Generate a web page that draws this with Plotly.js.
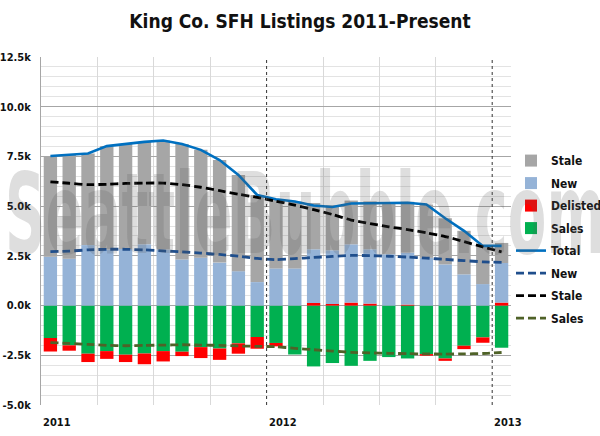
<!DOCTYPE html>
<html>
<head>
<meta charset="utf-8">
<script src="https://cdn.plot.ly/plotly-3.0.1.min.js"></script>
<style>
html,body{margin:0;padding:0;background:#fff;}
#wrap{position:relative;width:600px;height:436px;overflow:hidden;}
#chart{width:600px;height:436px;}
#wm{position:absolute;left:0;top:158px;white-space:nowrap;pointer-events:none;
    font-family:"DejaVu Sans Condensed","DejaVu Sans",sans-serif;font-weight:bold;font-size:112px;line-height:1;
    color:rgba(90,90,90,0.2);transform-origin:0 0;}
</style>
</head>
<body>
<div id="wrap">
<div id="chart"></div>
<div id="wm"></div>
</div>
<script>
// Months Jan 2011 .. Jan 2013
const months = ["2011-01","2011-02","2011-03","2011-04","2011-05","2011-06","2011-07","2011-08","2011-09","2011-10","2011-11","2011-12",
                "2012-01","2012-02","2012-03","2012-04","2012-05","2012-06","2012-07","2012-08","2012-09","2012-10","2012-11","2012-12","2013-01"];
// values in thousands
const staleVals    = [5.06,5.22,4.61,5.20,5.28,5.15,5.48,5.81,5.42,5.16,4.84,4.38,3.48,3.36,2.33,2.26,2.20,2.41,2.57,2.56,2.68,2.32,2.19,1.92,1.01];
const newVals      = [2.46,2.36,3.04,2.82,2.85,3.08,2.82,2.32,2.41,2.16,1.73,1.18,1.87,1.87,2.70,2.70,2.93,2.73,2.58,2.61,2.40,2.07,1.57,1.08,1.99];
const delistedVals = [-0.68,-0.27,-0.42,-0.39,-0.37,-0.54,-0.52,-0.22,-0.55,-0.57,-0.52,-0.59,-0.17,0.00,0.13,0.08,0.15,0.10,0.00,0.05,-0.08,-0.12,-0.17,-0.27,0.15];
const salesVals    = [-1.63,-2.00,-2.42,-2.29,-2.47,-2.41,-2.29,-2.32,-2.09,-2.16,-1.90,-1.58,-1.88,-2.46,-3.06,-2.89,-3.03,-2.78,-2.59,-2.66,-2.44,-2.66,-2.02,-1.60,-2.12];
const totalLine    = [7.52,7.58,7.65,8.02,8.13,8.23,8.30,8.13,7.83,7.32,6.57,5.56,5.35,5.23,5.03,4.96,5.13,5.14,5.15,5.17,5.08,4.39,3.76,3.00,3.00];
const newAvg       = [2.71,2.74,2.80,2.83,2.83,2.80,2.75,2.70,2.64,2.57,2.48,2.37,2.31,2.36,2.42,2.47,2.52,2.51,2.48,2.44,2.39,2.32,2.26,2.20,2.17];
const staleAvg     = [6.22,6.15,6.08,6.10,6.14,6.16,6.16,6.08,5.95,5.78,5.60,5.44,5.25,5.05,4.82,4.58,4.30,4.12,3.96,3.82,3.66,3.47,3.22,2.95,2.70];
const salesAvg     = [-1.86,-1.90,-1.95,-2.00,-2.02,-2.00,-1.99,-1.97,-1.99,-2.00,-2.03,-2.05,-2.07,-2.15,-2.22,-2.29,-2.35,-2.38,-2.40,-2.42,-2.43,-2.44,-2.43,-2.41,-2.36];
const yTickVals  = [-5,-2.5,0,2.5,5,7.5,10,12.5];
const yTickText  = ["-5.0k","-2.5k","0.0k","2.5k","5.0k","7.5k","10.0k","12.5k"];
const yearLabels = ["2011","2012","2013"];
const yearIdx    = [0,12,24];
const WM = 'SeattleBubble.com';

const xs = months.map((m,i)=>i);
const F = "DejaVu Sans Condensed, DejaVu Sans, sans-serif";

function bar(name, y, color, rank){
  return {type:'bar', name:name, x:xs, y:y, marker:{color:color, line:{width:0}},
          legendgroup:'g'+rank, legendrank:rank, hoverinfo:'skip'};
}
function line(name, y, color, dash, rank, smooth){
  return {type:'scatter', mode:'lines', name:name, x:xs, y:y,
          line:{color:color, width:smooth?2.8:2.6, dash:dash, shape:smooth?'spline':'linear', smoothing:0.5},
          legendgroup:'g'+rank, legendrank:rank, hoverinfo:'skip'};
}

const traces = [
  bar('Sales', salesVals, '#00b050', 4),
  bar('Delisted', delistedVals, '#ff0000', 3),
  bar('New', newVals, '#95b3d7', 2),
  bar('Stale', staleVals, '#a6a6a6', 1),
  line('Total', totalLine, '#0070c0', 'solid', 5, false),
  line('New', newAvg, '#1f4e8c', '8px,4px', 6, true),
  line('Stale', staleAvg, '#000000', '8px,4px', 7, true),
  line('Sales', salesAvg, '#4f6228', '8px,4px', 8, true)
];

const annotations = yearLabels.map((t,k)=>({
  text:t, xref:'x', yref:'paper', x:yearIdx[k]-0.5, y:0, xanchor:'left', yanchor:'top',
  yshift:-9, showarrow:false, font:{family:F, size:11, color:'#111', weight:'bold'}
}));

const shapes = [11.5, 23.5].map(v=>({type:'line', xref:'x', yref:'paper', x0:v, x1:v, y0:0, y1:1,
  line:{color:'#333', width:1, dash:'dot'}}));

const layout = {
  width:600, height:436,
  margin:{l:41, r:89, t:57, b:31, autoexpand:false},
  paper_bgcolor:'#fff', plot_bgcolor:'#fff',
  title:{text:'King Co. SFH Listings 2011-Present', font:{family:F, size:19, color:'#111', weight:'bold'}, x:0.5, xanchor:'center', y:0.95, yanchor:'middle', automargin:false},
  barmode:'relative', bargap:0.29,
  showlegend:true,
  legend:{x:1.0, xanchor:'left', y:0.744, yanchor:'top', font:{family:F, size:12, color:'#111', weight:'bold'},
          tracegroupgap:3.5, traceorder:'grouped', bgcolor:'rgba(0,0,0,0)'},
  xaxis:{range:[-0.5,24.5], tickmode:'array', tickvals:[-0.5,2.5,5.5,8.5,14.5,17.5,20.5], automargin:false,
         showticklabels:false, showgrid:true, gridcolor:'#d9d9d9', gridwidth:1, zeroline:false, ticks:'', fixedrange:true},
  yaxis:{range:[-5,12.5], tickmode:'array', tickvals:yTickVals, ticktext:yTickText, automargin:false,
         showgrid:true, gridcolor:'#a6a6a6', gridwidth:1, zeroline:true, zerolinecolor:'#a6a6a6', zerolinewidth:1,
         showline:true, linecolor:'#a6a6a6', ticks:'', ticklen:0, ticklabelstandoff:7,
         minor:{tickmode:'linear', tick0:0, dtick:0.5, showgrid:true, gridcolor:'#e3e3e3', gridwidth:1},
         tickfont:{family:F, size:11, color:'#111', weight:'bold'}, fixedrange:true},
  annotations:annotations,
  shapes:shapes
};

Plotly.newPlot('chart', traces, layout, {displayModeBar:false, staticPlot:true});

// Watermark lettering, squeezed horizontally to span the chart like the original logo
const wm = document.getElementById('wm');
wm.textContent = WM;
const natural = wm.getBoundingClientRect().width;
const sx = 600 / natural;
wm.style.transform = 'translateX(5px) scaleX(' + sx + ')';
</script>
</body>
</html>
